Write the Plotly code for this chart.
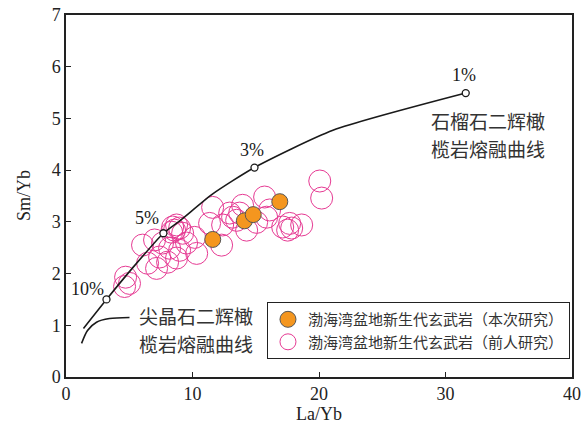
import plotly.graph_objects as go

# Garnet lherzolite melting curve (La/Yb vs Sm/Yb)
garnet_la = [1.38, 3.2, 5.3, 7.7, 9.0, 11.6, 14.9, 21.1, 31.6]
garnet_sm = [0.94, 1.5, 2.12, 2.78, 3.02, 3.54, 4.05, 4.77, 5.49]

# Marked melting degrees on the garnet curve
pct_labels = ["10%", "5%", "3%", "1%"]
pct_la = [3.2, 7.7, 14.9, 31.6]
pct_sm = [1.5, 2.78, 4.05, 5.49]

# Spinel lherzolite melting curve
spinel_la = [1.23, 1.70, 2.41, 3.44, 5.02]
spinel_sm = [0.65, 0.90, 1.06, 1.13, 1.15]

# Bohai Bay Basin Cenozoic basalts, this study
this_la = [11.6, 14.1, 14.8, 16.9]
this_sm = [2.66, 3.02, 3.14, 3.39]

# Bohai Bay Basin Cenozoic basalts, previous studies
prev_la = [4.71, 4.63, 5.02, 6.05, 7.0, 7.4, 6.45, 7.16, 8.03, 8.74, 8.98, 9.53,
           10.17, 8.19, 8.43, 8.74, 8.58, 8.98, 8.35, 9.22, 7.63, 10.33, 11.59,
           11.35, 12.3, 12.38, 13.17, 12.94, 13.96, 14.28, 15.07, 15.7, 15.86,
           17.13, 17.52, 17.84, 18.63, 17.68, 20.06, 20.21, 13.49, 13.73, 16.1]
prev_sm = [1.93, 1.75, 1.81, 2.55, 2.65, 2.32, 2.20, 2.10, 2.22, 2.30, 2.45, 2.59,
           2.70, 2.49, 2.90, 2.94, 2.84, 2.88, 2.80, 2.78, 2.59, 2.39, 3.28,
           2.97, 2.55, 2.94, 3.09, 3.17, 3.32, 2.84, 2.99, 3.48, 3.09,
           2.90, 2.84, 2.88, 2.94, 2.97, 3.79, 3.46, 3.03, 3.17, 3.23]

name_this = "渤海湾盆地新生代玄武岩（本次研究）"
name_prev = "渤海湾盆地新生代玄武岩（前人研究）"

SERIF = "Liberation Serif, Times New Roman, serif"
CJK = "Noto Sans CJK SC"
PINK = "#E63A93"
ORANGE = "#F4961F"
INK = "#222222"

fig = go.Figure()

fig.add_trace(go.Scatter(
    x=prev_la, y=prev_sm, mode="markers", name=name_prev,
    marker=dict(size=22, color="rgba(0,0,0,0)", line=dict(color=PINK, width=1)),
))

fig.add_trace(go.Scatter(
    x=garnet_la, y=garnet_sm, mode="lines", showlegend=False,
    line=dict(color="#1a1a1a", width=1.6, shape="spline", smoothing=0.6),
))
fig.add_trace(go.Scatter(
    x=spinel_la, y=spinel_sm, mode="lines", showlegend=False,
    line=dict(color="#1a1a1a", width=1.6, shape="spline", smoothing=0.8),
))
fig.add_trace(go.Scatter(
    x=pct_la, y=pct_sm, mode="markers", showlegend=False,
    marker=dict(size=7, color="white", line=dict(color="#1a1a1a", width=1.3)),
))

fig.add_trace(go.Scatter(
    x=this_la, y=this_sm, mode="markers", name=name_this,
    marker=dict(size=16, color=ORANGE, line=dict(color="#555555", width=1)),
))

# Percent labels beside the curve markers
shifts = [(-19, 10), (-16, 15), (-2, 18), (-2, 18)]
for lab, xv, yv, (dx, dy) in zip(pct_labels, pct_la, pct_sm, shifts):
    fig.add_annotation(x=xv, y=yv, text=lab, showarrow=False,
                       xshift=dx, yshift=dy,
                       font=dict(family=SERIF, size=18, color="#1a1a1a"))

# Curve names, one annotation per text row
curve_rows = [
    ("石榴石二辉橄", 33.35, 4.96),
    ("榄岩熔融曲线", 33.35, 4.42),
    ("尖晶石二辉橄", 10.26, 1.19),
    ("榄岩熔融曲线", 10.26, 0.65),
]
for txt, xv, yv in curve_rows:
    fig.add_annotation(x=xv, y=yv, text=txt, showarrow=False,
                       font=dict(family=CJK, size=19, color="#333333"))

# Axis titles
fig.add_annotation(x=0.5, y=-0.102, xref="paper", yref="paper", text="La/Yb",
                   xanchor="center", yanchor="middle", showarrow=False,
                   font=dict(family=SERIF, size=18, color=INK))
fig.add_annotation(x=-0.083, y=0.5, xref="paper", yref="paper", text="Sm/Yb",
                   xanchor="center", yanchor="middle",
                   textangle=-90, showarrow=False,
                   font=dict(family=SERIF, size=18, color=INK))

axis_common = dict(
    showgrid=False, zeroline=False, showline=True, mirror=True,
    linecolor=INK, linewidth=1.5, automargin=False,
    ticks="inside", ticklen=5, tickwidth=1.2, tickcolor=INK,
    tickfont=dict(family=SERIF, size=18, color=INK),
)

fig.update_layout(
    width=586, height=435,
    margin=dict(l=66, r=14, t=15, b=58),
    paper_bgcolor="white", plot_bgcolor="white",
    xaxis=dict(range=[0, 40], dtick=10, **axis_common),
    yaxis=dict(range=[0, 7], dtick=1, **axis_common),
    legend=dict(x=0.996, y=0.207, xanchor="right", yanchor="top",
                bgcolor="white", bordercolor=INK, borderwidth=1,
                font=dict(family=CJK, size=15, color="#333333"),
                itemwidth=30,
                traceorder="reversed", tracegroupgap=2),
    showlegend=True,
)

fig.write_html("out.html")
